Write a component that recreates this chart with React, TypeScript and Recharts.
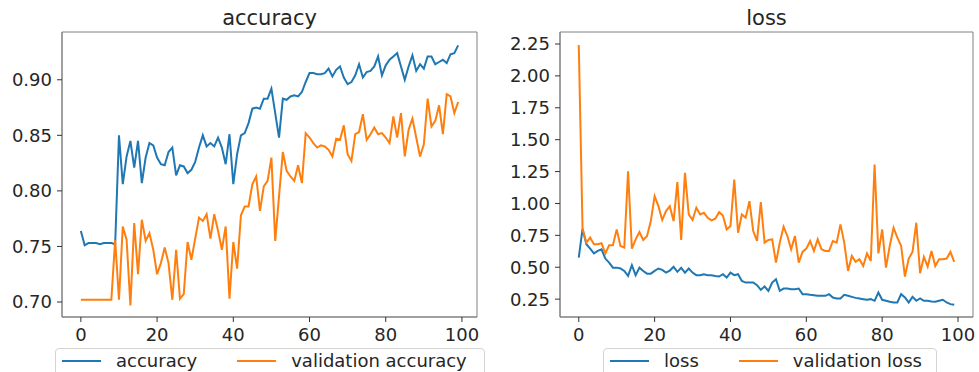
import { LineChart, Line, XAxis, YAxis, ReferenceArea } from 'recharts';

// per-epoch training history (100 epochs)
const accuracy = [
  0.764, 0.751, 0.753, 0.753, 0.753, 0.752, 0.753, 0.753, 0.753, 0.752,
  0.850, 0.806, 0.831, 0.845, 0.821, 0.845, 0.807, 0.830, 0.843, 0.841,
  0.830, 0.824, 0.823, 0.835, 0.839, 0.814, 0.823, 0.822, 0.816, 0.819,
  0.826, 0.839, 0.850, 0.840, 0.843, 0.840, 0.848, 0.839, 0.824, 0.851,
  0.806, 0.833, 0.850, 0.852, 0.861, 0.874, 0.875, 0.874, 0.883, 0.883,
  0.892, 0.870, 0.848, 0.883, 0.882, 0.885, 0.886, 0.885, 0.889, 0.898,
  0.906, 0.906, 0.905, 0.905, 0.906, 0.910, 0.903, 0.909, 0.912, 0.902,
  0.896, 0.898, 0.904, 0.914, 0.902, 0.907, 0.908, 0.912, 0.921, 0.904,
  0.913, 0.918, 0.921, 0.924, 0.912, 0.900, 0.912, 0.922, 0.908, 0.914,
  0.910, 0.921, 0.921, 0.914, 0.916, 0.918, 0.915, 0.923, 0.924, 0.931,
];

const valAccuracy = [
  0.702, 0.702, 0.702, 0.702, 0.702, 0.702, 0.702, 0.702, 0.702, 0.756,
  0.702, 0.768, 0.756, 0.697, 0.771, 0.725, 0.774, 0.755, 0.762, 0.747,
  0.725, 0.735, 0.749, 0.735, 0.702, 0.747, 0.703, 0.707, 0.754, 0.738,
  0.757, 0.776, 0.773, 0.779, 0.757, 0.779, 0.764, 0.747, 0.768, 0.703,
  0.754, 0.730, 0.778, 0.786, 0.786, 0.806, 0.813, 0.782, 0.804, 0.809,
  0.830, 0.755, 0.795, 0.835, 0.818, 0.813, 0.809, 0.823, 0.807, 0.852,
  0.848, 0.843, 0.839, 0.841, 0.840, 0.837, 0.831, 0.847, 0.846, 0.859,
  0.833, 0.827, 0.851, 0.853, 0.869, 0.846, 0.851, 0.857, 0.851, 0.852,
  0.848, 0.843, 0.867, 0.848, 0.870, 0.831, 0.855, 0.865, 0.848, 0.831,
  0.842, 0.883, 0.858, 0.863, 0.877, 0.851, 0.887, 0.885, 0.870, 0.880,
];

const loss = [
  0.576, 0.802, 0.680, 0.646, 0.609, 0.628, 0.640, 0.568, 0.536, 0.497,
  0.497, 0.490, 0.471, 0.432, 0.516, 0.438, 0.497, 0.471, 0.450, 0.450,
  0.471, 0.490, 0.479, 0.458, 0.474, 0.503, 0.464, 0.495, 0.458, 0.490,
  0.458, 0.438, 0.438, 0.445, 0.438, 0.438, 0.432, 0.427, 0.445, 0.419,
  0.458, 0.438, 0.445, 0.393, 0.380, 0.380, 0.380, 0.359, 0.323, 0.349,
  0.315, 0.380, 0.406, 0.315, 0.333, 0.333, 0.328, 0.328, 0.333, 0.289,
  0.289, 0.284, 0.281, 0.276, 0.276, 0.276, 0.289, 0.263, 0.255, 0.255,
  0.284, 0.276, 0.268, 0.260, 0.255, 0.250, 0.245, 0.250, 0.237, 0.302,
  0.245, 0.237, 0.229, 0.224, 0.224, 0.289, 0.263, 0.224, 0.268, 0.237,
  0.255, 0.237, 0.237, 0.232, 0.229, 0.237, 0.245, 0.224, 0.211, 0.206,
];

const valLoss = [
  2.242, 0.797, 0.693, 0.732, 0.680, 0.680, 0.688, 0.609, 0.672, 0.672,
  0.797, 0.667, 0.654, 1.253, 0.646, 0.719, 0.776, 0.714, 0.745, 0.862,
  1.057, 0.979, 0.870, 0.940, 0.979, 0.862, 1.167, 0.714, 1.240, 0.914,
  0.870, 0.966, 0.914, 0.927, 0.888, 0.867, 0.880, 0.932, 0.906, 0.797,
  0.823, 1.188, 0.771, 0.914, 0.888, 1.018, 0.784, 0.706, 1.010, 0.693,
  0.714, 0.719, 0.536, 0.693, 0.818, 0.745, 0.641, 0.745, 0.536, 0.620,
  0.646, 0.706, 0.628, 0.719, 0.641, 0.628, 0.628, 0.706, 0.693, 0.836,
  0.693, 0.471, 0.589, 0.542, 0.563, 0.510, 0.609, 0.549, 1.305, 0.609,
  0.797, 0.497, 0.667, 0.810, 0.732, 0.667, 0.427, 0.568, 0.620, 0.849,
  0.453, 0.581, 0.505, 0.628, 0.510, 0.563, 0.563, 0.568, 0.620, 0.542,
];

const xTicks = [0, 20, 40, 60, 80, 100];
const accTicks = [0.7, 0.75, 0.8, 0.85, 0.9];
const lossTicks = [0.25, 0.5, 0.75, 1.0, 1.25, 1.5, 1.75, 2.0, 2.25];

const BLUE = '#1f77b4';
const ORANGE = '#ff7f0e';
const FONT = '"DejaVu Sans", sans-serif';
const SPINE = '#808080';
const TEXT = '#262626';

const X_DOMAIN: [number, number] = [-4.95, 103.95];
const HEIGHT = 372;
const TOP = 32;
const X_AXIS_H = 55;

interface Series {
  key: string;
  name: string;
  color: string;
}

interface PanelProps {
  title: string;
  left: number;
  width: number;
  yAxisWidth: number;
  rightMargin: number;
  yDomain: [number, number];
  yTicks: number[];
  data: Record<string, number>[];
  series: Series[];
  legendLeft: number;
  legendWidth: number;
}

function Panel(p: PanelProps) {
  const plotLeft = p.left + p.yAxisWidth;
  const plotWidth = p.width - p.yAxisWidth - p.rightMargin;
  const tickStyle = { fontSize: 18, fill: TEXT, fontFamily: FONT };

  return (
    <>
      <div
        style={{
          position: 'absolute',
          left: plotLeft,
          width: plotWidth,
          top: 8,
          textAlign: 'center',
          fontSize: 21,
          lineHeight: '21px',
          color: TEXT,
        }}
      >
        {p.title}
      </div>
      <div style={{ position: 'absolute', left: p.left, top: 0 }}>
        <LineChart
          width={p.width}
          height={HEIGHT}
          data={p.data}
          margin={{ top: TOP, right: p.rightMargin, bottom: 0, left: 0 }}
        >
          <XAxis
            dataKey="epoch"
            type="number"
            domain={X_DOMAIN}
            ticks={xTicks}
            height={X_AXIS_H}
            tickSize={5}
            tickMargin={6}
            tick={tickStyle}
            axisLine={{ stroke: SPINE }}
            tickLine={{ stroke: '#333' }}
            allowDataOverflow
          />
          <YAxis
            type="number"
            domain={p.yDomain}
            ticks={p.yTicks}
            width={p.yAxisWidth}
            tickSize={5}
            tickMargin={5}
            tick={tickStyle}
            tickFormatter={(v: number) => v.toFixed(2)}
            axisLine={{ stroke: SPINE }}
            tickLine={{ stroke: '#333' }}
            allowDataOverflow
          />
          {/* axes frame: box over the full x/y domain */}
          <ReferenceArea
            x1={X_DOMAIN[0]}
            x2={X_DOMAIN[1]}
            y1={p.yDomain[0]}
            y2={p.yDomain[1]}
            fill="none"
            stroke={SPINE}
            strokeWidth={1}
            ifOverflow="visible"
          />
          {p.series.map((s) => (
            <Line
              key={s.key}
              type="linear"
              dataKey={s.key}
              name={s.name}
              stroke={s.color}
              strokeWidth={2}
              dot={false}
              activeDot={false}
              isAnimationActive={false}
            />
          ))}
        </LineChart>
      </div>
      <div
        style={{
          position: 'absolute',
          left: p.legendLeft,
          width: p.legendWidth,
          top: 348,
          height: 40,
          boxSizing: 'border-box',
          border: '1px solid #d4d4d4',
          borderRadius: 4,
          paddingTop: 3,
          paddingLeft: 6,
          display: 'flex',
          alignItems: 'flex-start',
          fontSize: 18,
          color: TEXT,
        }}
      >
        {p.series.map((s, i) => (
          <div
            key={s.key}
            style={{
              display: 'flex',
              alignItems: 'center',
              height: 18,
              lineHeight: '18px',
              marginLeft: i === 0 ? 0 : 40,
              whiteSpace: 'nowrap',
            }}
          >
            <span style={{ display: 'inline-block', width: 39, height: 2, background: s.color, marginRight: 15 }} />
            <span>{s.name}</span>
          </div>
        ))}
      </div>
    </>
  );
}

export default function App() {
  const accData = accuracy.map((v, i) => ({ epoch: i, accuracy: v, val_accuracy: valAccuracy[i] }));
  const lossData = loss.map((v, i) => ({ epoch: i, loss: v, val_loss: valLoss[i] }));

  return (
    <div
      style={{
        position: 'absolute',
        left: 0,
        top: 0,
        width: 979,
        height: HEIGHT,
        overflow: 'hidden',
        background: '#fff',
        fontFamily: FONT,
      }}
    >
      <Panel
        title="accuracy"
        left={0}
        width={490}
        yAxisWidth={62}
        rightMargin={13}
        yDomain={[0.6865, 0.943]}
        yTicks={accTicks}
        data={accData}
        series={[
          { key: 'accuracy', name: 'accuracy', color: BLUE },
          { key: 'val_accuracy', name: 'validation accuracy', color: ORANGE },
        ]}
        legendLeft={55}
        legendWidth={430}
      />
      <Panel
        title="loss"
        left={490}
        width={489}
        yAxisWidth={70}
        rightMargin={6}
        yDomain={[0.11, 2.344]}
        yTicks={lossTicks}
        data={lossData}
        series={[
          { key: 'loss', name: 'loss', color: BLUE },
          { key: 'val_loss', name: 'validation loss', color: ORANGE },
        ]}
        legendLeft={603}
        legendWidth={334}
      />
    </div>
  );
}
